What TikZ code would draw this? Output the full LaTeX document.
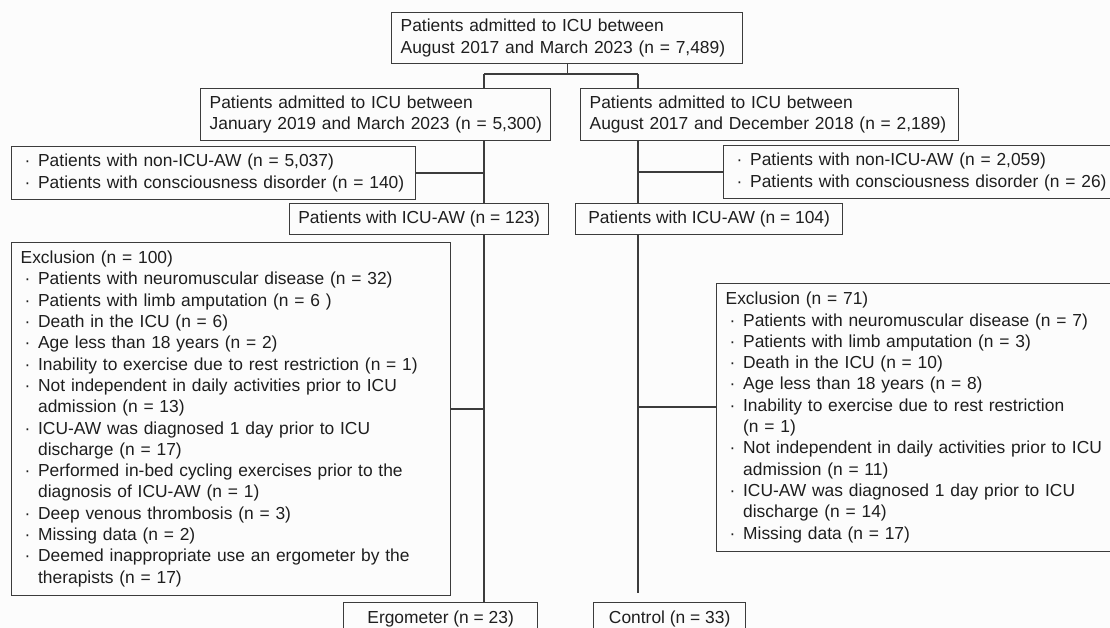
\documentclass[tikz,border=0pt]{standalone}
\usepackage{fontspec}
\setmainfont{Liberation Sans}
\definecolor{linec}{HTML}{3C3C3C}
\definecolor{txtc}{HTML}{1E1E1E}
\definecolor{bgc}{HTML}{FCFCFC}
\newcommand\bul{\makebox[17.5pt][l]{\hspace{4pt}·}}
\newcommand\cnt{\hspace*{17.5pt}}
\newcommand\lines[1]{\begin{tabular}{@{}l@{}}#1\end{tabular}}
\begin{document}
\begin{tikzpicture}[x=1pt,y=-1pt,
  box/.style={draw=linec, line width=1.3pt, inner xsep=9pt, inner ysep=0pt,
    anchor=north west, align=left, text=txtc,
    font=\fontsize{17.4}{21.3}\selectfont},
  cbox/.style={box, align=center, inner xsep=0pt},
  conn/.style={draw=linec, line width=1.3pt}]
\useasboundingbox (0,0) rectangle (1110,628);
\fill[bgc] (0,0) rectangle (1110,628);
\clip (0,0) rectangle (1110,628);

\node[box, text width=333pt, minimum height=51pt] (top) at (391,12)
  {\lines{Patients admitted to ICU between\\August 2017 and March 2023 (n = 7,489)}};
\node[box, text width=332pt, minimum height=52pt] (box2) at (200,88)
  {\lines{Patients admitted to ICU between\\January 2019 and March 2023 (n = 5,300)}};
\node[box, text width=360pt, minimum height=52pt] (box3) at (580,88)
  {\lines{Patients admitted to ICU between\\August 2017 and December 2018 (n = 2,189)}};
\node[box, text width=386pt, minimum height=53pt] (exclA) at (11,146)
  {\lines{\bul Patients with non-ICU-AW (n = 5,037)\\\bul Patients with consciousness disorder (n = 140)}};
\node[box, text width=402pt, minimum height=53pt] (exclB) at (723,145)
  {\lines{\bul Patients with non-ICU-AW (n = 2,059)\\\bul Patients with consciousness disorder (n = 26)}};
\node[cbox, minimum width=259pt, minimum height=31pt] (icuA) at (289,203)
  {Patients with ICU-AW (n = 123)};
\node[cbox, minimum width=267pt, minimum height=31pt] (icuB) at (575,203)
  {Patients with ICU-AW (n = 104)};
\node[box, text width=421pt, minimum height=353pt] (exclC) at (11,242)
  {\lines{Exclusion (n = 100)\\
   \bul Patients with neuromuscular disease (n = 32)\\
   \bul Patients with limb amputation (n = 6 )\\
   \bul Death in the ICU (n = 6)\\
   \bul Age less than 18 years (n = 2)\\
   \bul Inability to exercise due to rest restriction (n = 1)\\
   \bul Not independent in daily activities prior to ICU\\
   \cnt admission (n = 13)\\
   \bul ICU-AW was diagnosed 1 day prior to ICU\\
   \cnt discharge (n = 17)\\
   \bul Performed in-bed cycling exercises prior to the\\
   \cnt diagnosis of ICU-AW (n = 1)\\
   \bul Deep venous thrombosis (n = 3)\\
   \bul Missing data (n = 2)\\
   \bul Deemed inappropriate use an ergometer by the\\
   \cnt therapists (n = 17)}};
\node[box, text width=410pt, minimum height=268pt] (exclD) at (716,283)
  {\lines{Exclusion (n = 71)\\
   \bul Patients with neuromuscular disease (n = 7)\\
   \bul Patients with limb amputation (n = 3)\\
   \bul Death in the ICU (n = 10)\\
   \bul Age less than 18 years (n = 8)\\
   \bul Inability to exercise due to rest restriction\\
   \cnt (n = 1)\\
   \bul Not independent in daily activities prior to ICU\\
   \cnt admission (n = 11)\\
   \bul ICU-AW was diagnosed 1 day prior to ICU\\
   \cnt discharge (n = 14)\\
   \bul Missing data (n = 17)}};
\node[cbox, minimum width=194pt, minimum height=32pt] (ergo) at (343,602)
  {Ergometer (n = 23)};
\node[cbox, minimum width=152pt, minimum height=32pt] (ctrl) at (593,602)
  {Control (n = 33)};

\coordinate (splitL) at (484,74);
\coordinate (splitR) at (638,74);
\coordinate (brC) at (484,409);
\coordinate (brD) at (638,407);
\coordinate (endR) at (638,593);

\draw[conn] (top.south) -- (top.south |- splitL);
\draw[conn] (splitL) -- (splitR);
\draw[conn] (splitL) -- (splitL |- box2.north);
\draw[conn] (splitR) -- (splitR |- box3.north);
\draw[conn] (splitL |- box2.south) -- (splitL |- icuA.north);
\draw[conn] (splitL |- icuA.south) -- (splitL |- ergo.north);
\draw[conn] (splitL |- exclA.east) -- (exclA.east);
\draw[conn] (brC) -- (brC -| exclC.east);
\draw[conn] (splitR |- box3.south) -- (splitR |- icuB.north);
\draw[conn] (splitR |- icuB.south) -- (endR);
\draw[conn] (splitR |- exclB.west) -- (exclB.west);
\draw[conn] (brD) -- (brD -| exclD.west);
\end{tikzpicture}
\end{document}
